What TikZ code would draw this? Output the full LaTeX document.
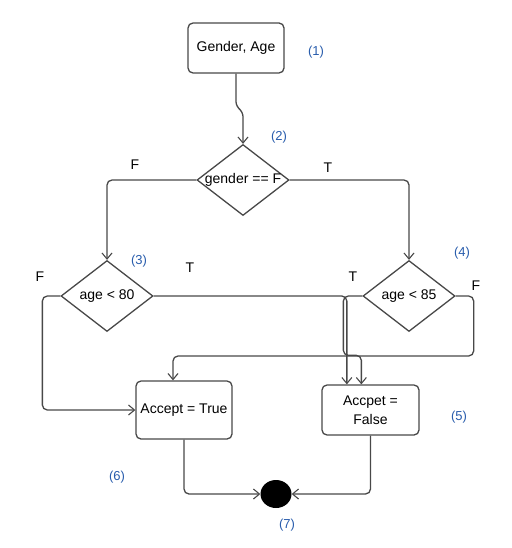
\documentclass[tikz,border=0pt]{standalone}
\usepackage{fontspec}
\setmainfont{Liberation Sans}
\usetikzlibrary{shapes.geometric,arrows.meta,calc}
\definecolor{ln}{RGB}{72,72,72}
\definecolor{bl}{RGB}{40,92,172}
\tikzset{
  box/.style={draw=ln, line width=1.3pt, rounded corners=5pt, inner sep=0pt, align=center, font=\fontsize{14}{17}\selectfont},
  dia/.style={draw=ln, line width=1.3pt, diamond, inner sep=0pt, minimum width=92pt, minimum height=71pt, font=\fontsize{14}{17}\selectfont},
  tag/.style={text=bl, font=\fontsize{13}{15}\selectfont, inner sep=0pt},
  tf/.style={text=black, font=\fontsize{14}{16}\selectfont, inner sep=0pt},
  conn/.style={draw=ln, line width=1.3pt, rounded corners=5pt, -{Straight Barb[length=6pt,width=10pt,line width=1.1pt]}},
}
\begin{document}
\begin{tikzpicture}[x=1pt,y=-1pt]
\useasboundingbox (0,0) rectangle (511,548);
% nodes
\node[box, minimum width=96pt, minimum height=50pt] (b1) at (236,48) {Gender, Age};
\node[dia] (d1) at (243,180) {\makebox[0pt]{gender == F}};
\node[dia] (d3) at (107,296) {\makebox[0pt]{age < 80}};
\node[dia] (d4) at (409,296) {\makebox[0pt]{age < 85}};
\node[box, minimum width=96pt, minimum height=58pt] (b6) at (184,410) {Accept = True};
\node[box, minimum width=97pt, minimum height=50pt] (b5) at (370.5,410) {Accpet =\\[2pt] False};
\node[ellipse, fill=black, minimum width=31pt, minimum height=28pt, inner sep=0pt] (end) at (276,494) {};
% tags
\node[tag] (t1) at (316,52) {(1)};
\node[tag] (t2) at (279,137) {(2)};
\node[tag] (t3) at (139,261) {(3)};
\node[tag] (t4) at (462,253) {(4)};
\node[tag] (t5) at (459,417) {(5)};
\node[tag] (t6) at (117,477) {(6)};
\node[tag] (t7) at (287,525) {(7)};
% T/F labels
\node[tf] (f1) at (135,165) {F};
\node[tf] (tt1) at (328,168) {T};
\node[tf] (f3) at (40,277) {F};
\node[tf] (tt3) at (190,268) {T};
\node[tf] (tt4) at (353,277) {T};
\node[tf] (f4) at (476,286) {F};
% connectors
\draw[conn] (b1.south) -- ++(0,33) -- ++(7,5) -- (d1.north);
\draw[conn] (d1.west) -| (d3.north);
\draw[conn] (d1.east) -| (d4.north);
\draw[conn] (d3.west) -| ($(b6.west)+(-93,0)$) -- (b6.west);
\draw[conn] (d3.east) -| ($(b5.north west)+(25.5,0)$);
\draw[conn] (d4.west) -| ($(b5.north west)+(22,-29)$) -| ($(b5.north west)+(40,0)$);
\draw[conn] (d4.east) -| ($(d4.east)+(18,60)$) -| ($(b6.north)+(-11,0)$);
\draw[conn] (b6.south) |- (end.west);
\draw[conn] (b5.south) |- (end.east);
\end{tikzpicture}
\end{document}
